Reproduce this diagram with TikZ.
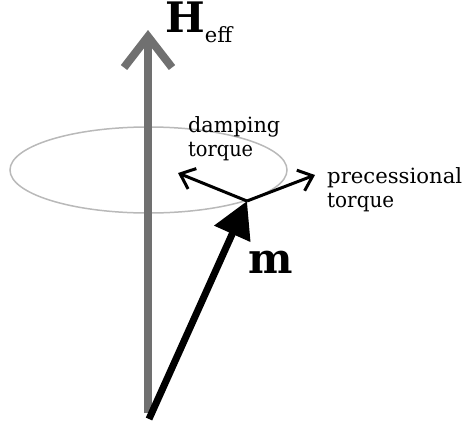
\documentclass[tikz,border=0pt]{standalone}
\usepackage{fontspec}
\setmainfont{DejaVu Serif}
\usetikzlibrary{arrows.meta}
\definecolor{hgray}{RGB}{112,112,112}
\definecolor{egray}{RGB}{185,185,185}
\newcommand{\fitword}[2]{\resizebox{#1}{\height}{#2}}
\begin{document}
\begin{tikzpicture}[x=1pt,y=-1pt,
  lbl/.style={inner sep=0pt,anchor=base west,font=\fontsize{21}{25}\selectfont},
  torquearrow/.style={line width=3pt,-{Straight Barb[length=13pt,width=22pt]}},
  hfield/.style={hgray,line width=8pt,-{Straight Barb[length=31pt,width=48pt]}},
  marrow/.style={line width=7pt,-{Triangle[length=36pt,width=38pt]}}]
\useasboundingbox (0,0) rectangle (462,429);
\coordinate (hbase) at (148,413);
\coordinate (htip) at (148,30);
\coordinate (mbase) at (149,419);
\coordinate (mtip) at (247,201);
\coordinate (dtip) at (178,173);
\coordinate (ptip) at (315,175);
\draw[egray,line width=1.5pt] (148.5,170) ellipse [x radius=138.5, y radius=43];
\draw[hfield] (hbase) -- (htip);
\draw[marrow] (mbase) -- (mtip);
\draw[torquearrow] (mtip) -- (dtip);
\draw[torquearrow] (mtip) -- (ptip);
\node[inner sep=0pt,anchor=base west] (heff) at (165,32)
  {{\fontsize{42}{42}\selectfont\bfseries H}\raisebox{-10pt}{\fontsize{21}{21}\selectfont eff}};
\node[inner sep=0pt,anchor=base west,font=\fontsize{42}{42}\selectfont\bfseries] (mlab) at (248,273) {m};
\node[lbl] (damp1) at (188,132) {\fitword{92pt}{damping}};
\node[lbl] (damp2) at (188,156) {\fitword{65pt}{torque}};
\node[lbl] (prec1) at (327,183) {\fitword{135pt}{precessional}};
\node[lbl] (prec2) at (327,207) {\fitword{67pt}{torque}};
\end{tikzpicture}
\end{document}
